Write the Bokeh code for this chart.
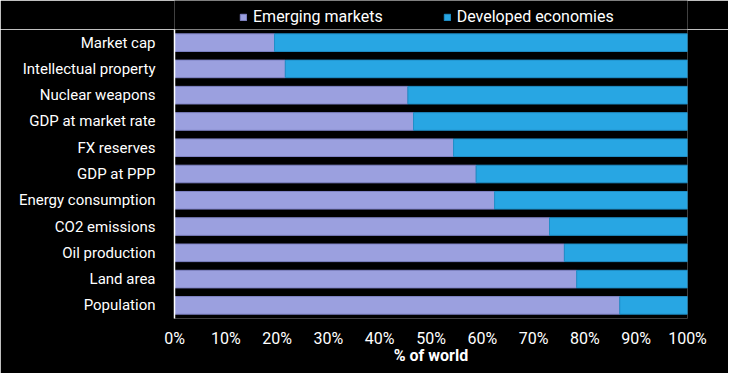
from bokeh.plotting import figure
from bokeh.layouts import column
from bokeh.models import ColumnDataSource, Legend, LegendItem
from bokeh.embed import file_html
from bokeh.resources import INLINE

categories = ["Market cap", "Intellectual property", "Nuclear weapons", "GDP at market rate",
              "FX reserves", "GDP at PPP", "Energy consumption", "CO2 emissions",
              "Oil production", "Land area", "Population"]
emerging = [19.5, 21.6, 45.5, 46.6, 54.4, 58.8, 62.4, 73.1, 76.0, 78.4, 86.8]
developed = [100 - e for e in emerging]
x_ticks = [0, 10, 20, 30, 40, 50, 60, 70, 80, 90, 100]
series_names = ["Emerging markets", "Developed economies"]

FONT = "Roboto"
EM_COL = "#9ba0df"
DV_COL = "#28a6e3"
EM_EDGE = "#8084c6"
DV_EDGE = "#1f8fc8"

src = ColumnDataSource(dict(cat=categories, em=emerging, dv=developed,
                            tot=[e + d for e, d in zip(emerging, developed)]))

# ---- main chart ----
fig = figure(width=728, height=344, output_backend="svg", toolbar_location=None,
             y_range=list(reversed(categories)), x_range=(0, 100))
fig.y_range.range_padding = 0
fig.background_fill_color = "black"
fig.border_fill_color = "black"
fig.outline_line_color = None
fig.min_border_left = 174
fig.min_border_right = 41
fig.min_border_top = 0
fig.min_border_bottom = 55
fig.grid.visible = False

fig.hbar(y="cat", left=0, right="em", height=0.67, source=src,
         fill_color=EM_COL, line_color=EM_EDGE, line_width=1)
fig.hbar(y="cat", left="em", right="tot", height=0.67, source=src,
         fill_color=DV_COL, line_color=DV_EDGE, line_width=1)

fig.xaxis.ticker = x_ticks
fig.xaxis.major_label_overrides = {t: f"{t}%" for t in x_ticks}
fig.xaxis.axis_line_color = None
fig.xaxis.major_tick_line_color = None
fig.xaxis.minor_tick_line_color = None
fig.xaxis.major_label_text_color = "white"
fig.xaxis.major_label_text_font = FONT
fig.xaxis.major_label_text_font_size = "16px"
fig.xaxis.major_label_standoff = 4
fig.xaxis.axis_label = "% of world"
fig.xaxis.axis_label_text_color = "white"
fig.xaxis.axis_label_text_font = FONT
fig.xaxis.axis_label_text_font_size = "16px"
fig.xaxis.axis_label_text_font_style = "bold"
fig.xaxis.axis_label_standoff = -5

fig.yaxis.axis_line_color = "white"
fig.yaxis.axis_line_width = 1.5
fig.yaxis.major_tick_line_color = None
fig.yaxis.minor_tick_line_color = None
fig.yaxis.major_label_text_color = "white"
fig.yaxis.major_label_text_font = FONT
fig.yaxis.major_label_text_font_size = "15px"
fig.yaxis.major_label_standoff = 13

# ---- legend strip above the chart ----
leg = figure(width=728, height=29, output_backend="svg", toolbar_location=None,
             y_range=list(reversed(categories)), x_range=(0, 100),
             x_axis_location=None, y_axis_location=None)
leg.background_fill_color = "black"
leg.border_fill_color = "black"
leg.outline_line_color = None
leg.grid.visible = False
leg.min_border_left = 174
leg.min_border_right = 41
leg.min_border_top = 0
leg.min_border_bottom = 0
k1 = leg.hbar(y="cat", left=0, right="em", height=0.67, source=src,
              fill_color=EM_COL, line_color=EM_EDGE, visible=False)
k2 = leg.hbar(y="cat", left="em", right="tot", height=0.67, source=src,
              fill_color=DV_COL, line_color=DV_EDGE, visible=False)

legend = Legend(items=[LegendItem(label=series_names[0], renderers=[k1]),
                       LegendItem(label=series_names[1], renderers=[k2])],
                orientation="horizontal", location=(65, 3),
                background_fill_alpha=0, border_line_color=None,
                inactive_fill_alpha=0,
                label_text_color="white", label_text_font=FONT,
                label_text_font_size="16px",
                glyph_width=8, glyph_height=8, label_height=18, label_standoff=6,
                spacing=60, padding=0, margin=0)
leg.add_layout(legend)

p = column(leg, fig, spacing=0)

open("out.html", "w").write(file_html(p, INLINE))
